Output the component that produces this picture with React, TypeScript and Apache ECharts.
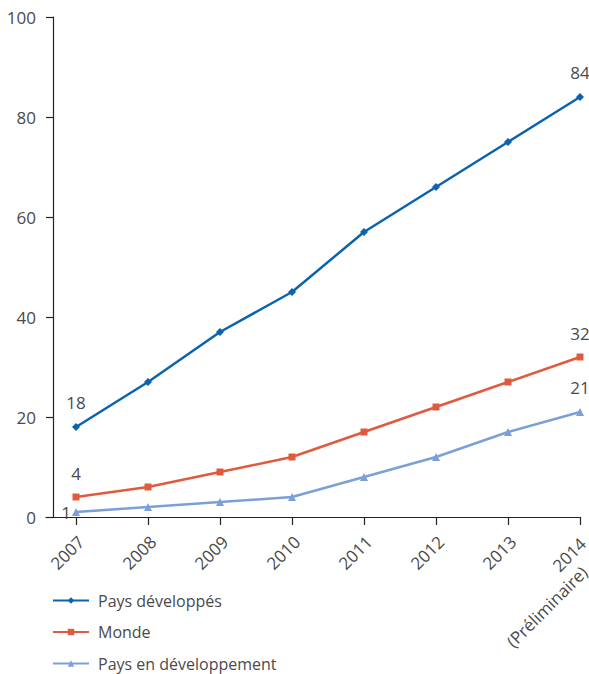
import React, { useEffect, useRef } from "react";
import * as echarts from "echarts";

const categories = ["2007", "2008", "2009", "2010", "2011", "2012", "2013", "2014"];
const lastNote = "(Préliminaire)";
const developpes = [18, 27, 37, 45, 57, 66, 75, 84];
const monde = [4, 6, 9, 12, 17, 22, 27, 32];
const enDeveloppement = [1, 2, 3, 4, 8, 12, 17, 21];
const yTicks = [0, 20, 40, 60, 80, 100];

const FONT = "'Open Sans', 'Noto Sans', sans-serif";
const TEXT = "#4a4a4a";

function endLabels(values: number[], firstPos: string, firstDist: number) {
  return values.map((v, i) => {
    if (i === 0) {
      return { value: [i, v], label: { show: true, position: firstPos, distance: firstDist } };
    }
    if (i === values.length - 1) {
      return { value: [i, v], label: { show: true, position: "top" } };
    }
    return { value: [i, v] };
  });
}

export default function App() {
  const ref = useRef<HTMLDivElement>(null);
  useEffect(() => {
    if (!ref.current) return;
    const chart = echarts.init(ref.current, null, { renderer: "svg" });
    const idx = categories.map((_, i) => i);
    const labelStyle = { fontFamily: FONT, fontSize: 17, color: TEXT, distance: 12 };
    const mk = (
      name: string,
      data: number[],
      color: string,
      symbol: string,
      size: number,
      firstPos: string,
      firstDist: number
    ) => ({
      name,
      type: "line",
      data: endLabels(data, firstPos, firstDist),
      symbol,
      symbolSize: size,
      lineStyle: { color, width: 2.5 },
      itemStyle: { color },
      label: { show: false, ...labelStyle },
      emphasis: { disabled: true },
    });
    const n = categories.length;
    chart.setOption({
      animation: false,
      backgroundColor: "#fff",
      grid: { left: 46, right: 9, top: 17, bottom: 157, containLabel: false, outerBoundsMode: "none" },
      xAxis: {
        type: "value",
        min: -0.4167,
        max: n - 1,
        splitLine: { show: false },
        axisLine: { show: true, onZero: false, lineStyle: { color: "#222", width: 1.2 } },
        axisTick: { show: true, length: 8, lineStyle: { color: "#222", width: 1.2 }, customValues: idx },
        axisLabel: {
          customValues: idx,
          rotate: 45,
          margin: 14,
          verticalAlign: "top",
          fontFamily: FONT,
          fontSize: 17,
          color: TEXT,
          lineHeight: 18,
          padding: [0, 2, 0, 0],
          formatter: (v: number) => {
            const i = Math.round(v);
            return i === n - 1 ? `{a|${categories[i]}}\n{b|${lastNote}}` : categories[i];
          },
          rich: {
            a: { fontFamily: FONT, fontSize: 17, color: TEXT, lineHeight: 18, padding: [0, 3, 0, 0] },
            b: { fontFamily: FONT, fontSize: 17, color: TEXT, lineHeight: 24, padding: [0, 22, 0, 0] },
          },
        },
      },
      yAxis: {
        type: "value",
        min: 0,
        max: 100,
        interval: 20,
        offset: -7,
        splitLine: { show: false },
        axisLine: { show: true, onZero: false, lineStyle: { color: "#222", width: 1.2 } },
        axisTick: { show: true, length: 7, lineStyle: { color: "#222", width: 1.2 } },
        axisLabel: {
          margin: 17,
          fontFamily: FONT,
          fontSize: 17,
          color: TEXT,
          customValues: yTicks,
        },
      },
      legend: {
        orient: "vertical",
        left: 52,
        top: 592,
        height: 82,
        padding: 0,
        itemGap: 14.5,
        itemWidth: 36,
        itemHeight: 8,
        textStyle: { fontFamily: FONT, fontSize: 16, color: TEXT, padding: [0, 0, 0, 4], lineHeight: 17 },
        data: ["Pays développés", "Monde", "Pays en développement"],
      },
      series: [
        mk("Pays développés", developpes, "#0b63b0", "diamond", 8, "top", 12),
        mk("Monde", monde, "#e05a3d", "rect", 7, "top", 12),
        mk("Pays en développement", enDeveloppement, "#7b9fd7", "triangle", 8, "left", 1),
      ],
    });
    return () => chart.dispose();
  }, []);
  return <div ref={ref} style={{ width: 589, height: 674, position: "absolute", left: 0, top: 0 }} />;
}
